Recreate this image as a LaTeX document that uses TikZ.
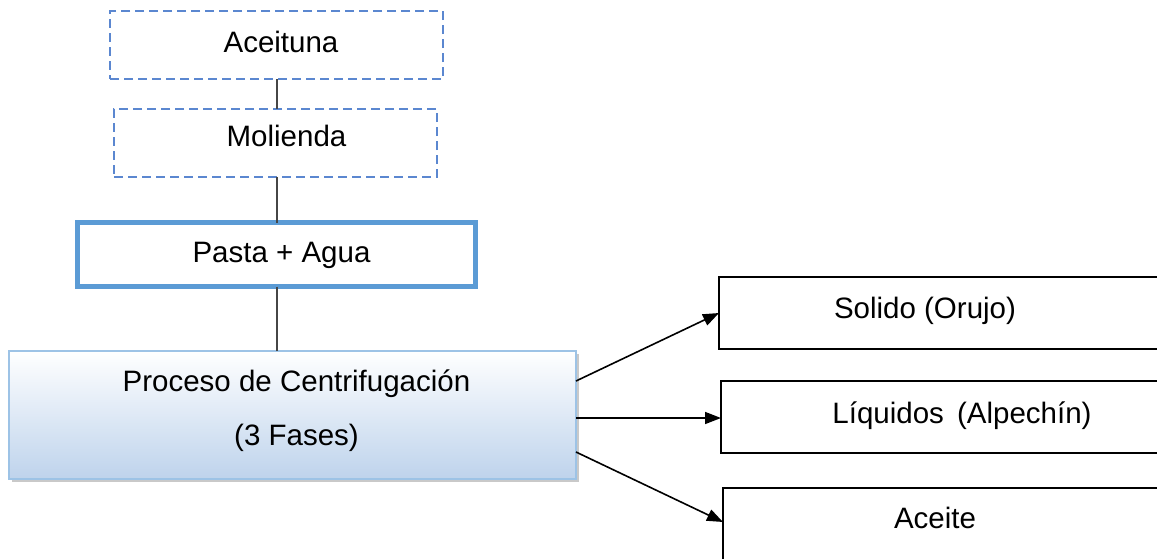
\documentclass[tikz,border=0pt]{standalone}
\usepackage{fontspec}
\setmainfont{Liberation Sans}
\usetikzlibrary{arrows.meta,shadows,calc}
\definecolor{dashblue}{RGB}{91,135,208}
\definecolor{thickblue}{RGB}{91,155,213}
\definecolor{gradblue}{RGB}{190,211,236}
\definecolor{edgeblue}{RGB}{157,195,230}
\definecolor{linkgray}{RGB}{70,70,70}
\begin{document}
\begin{tikzpicture}[x=1pt,y=1pt,
  shapebox/.style={rectangle,inner sep=0pt,outer sep=0pt},
  dashbox/.style={shapebox,draw=dashblue,line width=1.8pt,dash pattern=on 9pt off 5pt},
  thickbox/.style={shapebox,draw=thickblue,line width=5pt},
  procbox/.style={shapebox,draw=edgeblue,line width=1.4pt,top color=white,bottom color=gradblue,
    drop shadow={shadow xshift=3pt,shadow yshift=-3pt,opacity=0.35,fill=black!60}},
  outbox/.style={shapebox,draw=black,line width=1.8pt},
  txt/.style={anchor=base,inner sep=0pt,font=\fontsize{29.5}{35}\selectfont},
  link/.style={draw=linkgray,line width=2pt},
  flow/.style={draw=black,line width=1.6pt,-{Triangle[length=16pt,width=12pt]}}]
\useasboundingbox (0,0) rectangle (1157,-558);
\fill[white] (0,0) rectangle (1157,-558);
% boxes
\node[dashbox,minimum width=333pt,minimum height=68pt] (ace) at (276.5,-45) {};
\node[dashbox,minimum width=323pt,minimum height=68pt] (mol) at (275.5,-143) {};
\node[thickbox,minimum width=398pt,minimum height=64pt] (pas) at (276.5,-254.5) {};
\node[procbox,minimum width=567pt,minimum height=128pt] (pro) at (292.5,-415) {};
\node[outbox,minimum width=446pt,minimum height=72pt] (sol) at (942,-313) {};
\node[outbox,minimum width=444pt,minimum height=72pt] (liq) at (943,-417) {};
\node[outbox,minimum width=442pt,minimum height=72pt] (oil) at (944,-524) {};
% texts
\node[txt] (tace) at (281,-52) {Aceituna};
\node[txt] (tmol) at (286.5,-146) {Molienda};
\node[txt] (tpas) at (281.5,-262) {Pasta + Agua};
\node[txt] (tpro1) at (296.5,-391) {Proceso de Centrifugación};
\node[txt] (tpro2) at (296.5,-445) {(3 Fases)};
\node[txt] (tsol) at (925,-318) {Solido (Orujo)};
\node[txt] (tliq) at (962,-423) {Líquidos\, (Alpechín)};
\node[txt] (toil) at (935,-528) {Aceite};
% connectors
\draw[link] (ace.south) -- (ace.south |- mol.north);
\draw[link] (ace.south |- mol.south) -- (ace.south |- pas.north);
\draw[link] (ace.south |- pas.south) -- (ace.south |- pro.north);
\draw[flow] ([yshift=34pt]pro.east) -- (sol.west);
\draw[flow] ([yshift=-3pt]pro.east) -- ([yshift=-1pt]liq.west);
\draw[flow] ([yshift=-37pt]pro.east) -- ([yshift=2pt]oil.west);
\end{tikzpicture}
\end{document}
